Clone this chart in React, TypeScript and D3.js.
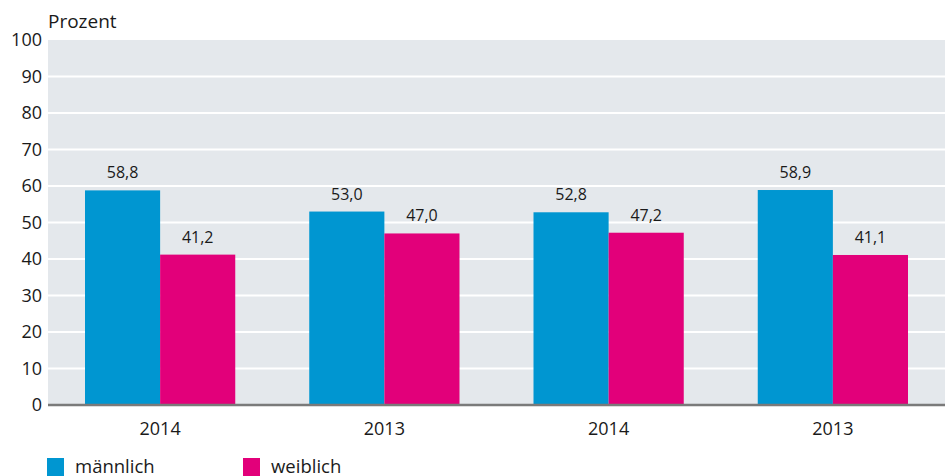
import React from "react";
import { scaleBand, scaleLinear } from "d3";

// chart data
const categories = ["2014", "2013", "2014 ", "2013 "];
const maleValues = [58.8, 53.0, 52.8, 58.9];
const femaleValues = [41.2, 47.0, 47.2, 41.1];
const yTicks = [0, 10, 20, 30, 40, 50, 60, 70, 80, 90, 100];
const seriesNames = ["männlich", "weiblich"];
const seriesColors = ["#0096d1", "#e2007a"];

const width = 945;
const height = 476;
const margin = { top: 40, right: 0, bottom: 71, left: 48 };
const font = "'Source Sans Pro', 'Open Sans', 'Noto Sans', sans-serif";

const fmt = (v: number) => v.toFixed(1).replace(".", ",");

export default function App() {
  const x = scaleBand()
    .domain(categories)
    .range([margin.left, width - margin.right])
    .paddingInner(0.33)
    .paddingOuter(0.165);

  const y = scaleLinear()
    .domain([0, 100])
    .range([height - margin.bottom, margin.top]);

  const half = x.bandwidth() / 2;
  const series = [maleValues, femaleValues];

  return (
    <svg
      width={width}
      height={height}
      style={{ position: "absolute", left: 0, top: 0 }}
      fontFamily={font}
    >
      <rect
        x={margin.left}
        y={y(100)}
        width={width - margin.left - margin.right}
        height={y(0) - y(100)}
        fill="#e4e8ec"
      />
      {yTicks.slice(1, -1).map(t => (
        <line
          key={t}
          x1={margin.left}
          x2={width - margin.right}
          y1={y(t)}
          y2={y(t)}
          stroke="#fff"
          strokeWidth={2}
        />
      ))}
      {yTicks.map(t => (
        <text
          key={t}
          x={42}
          y={y(t)}
          dy="0.35em"
          textAnchor="end"
          fontSize={18}
          fill="#1a1a1a"
        >
          {t}
        </text>
      ))}
      <text x={margin.left} y={28} fontSize={19} fill="#1a1a1a">
        Prozent
      </text>

      {series.map((vals, si) =>
        vals.map((v, i) => {
          const bx = (x(categories[i]) as number) + si * half;
          return (
            <g key={`${si}-${i}`}>
              <rect
                x={bx}
                y={y(v)}
                width={half}
                height={y(0) - y(v)}
                fill={seriesColors[si]}
              />
              <text
                x={bx + half / 2}
                y={y(v) - 12}
                textAnchor="middle"
                fontSize={16}
                fill="#1a1a1a"
              >
                {fmt(v)}
              </text>
            </g>
          );
        })
      )}

      <line
        x1={margin.left}
        x2={width - margin.right}
        y1={y(0)}
        y2={y(0)}
        stroke="#7a7a7a"
        strokeWidth={2.5}
      />
      {categories.map(c => (
        <text
          key={c}
          x={(x(c) as number) + x.bandwidth() / 2}
          y={y(0) + 30}
          textAnchor="middle"
          fontSize={18}
          fill="#1a1a1a"
        >
          {c.trim()}
        </text>
      ))}

      {seriesNames.map((name, i) => (
        <g key={name} transform={`translate(${47 + i * 196},458)`}>
          <rect width={17} height={18} fill={seriesColors[i]} />
          <text x={28} y={15} fontSize={18.5} fill="#1a1a1a">
            {name}
          </text>
        </g>
      ))}
    </svg>
  );
}
